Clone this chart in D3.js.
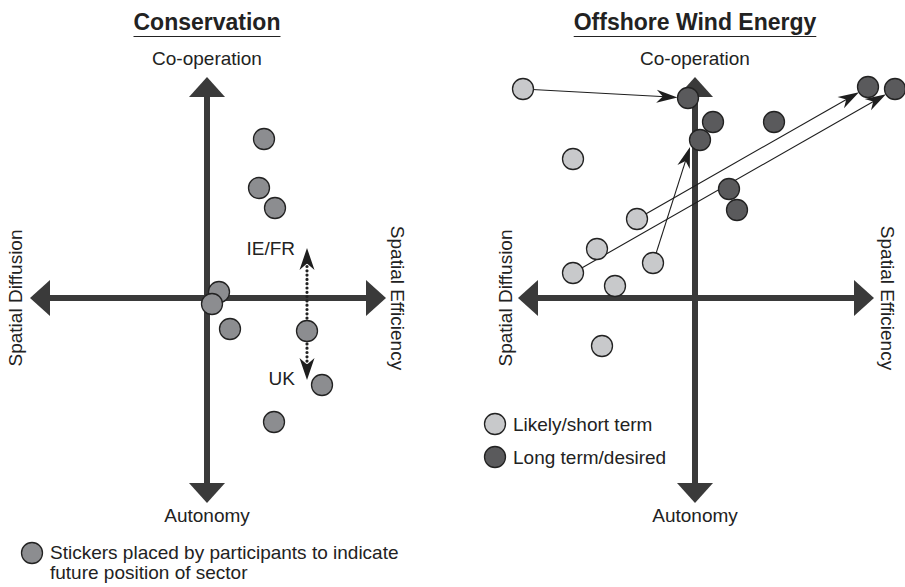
<!DOCTYPE html>
<html>
<head>
<meta charset="utf-8">
<script src="https://cdn.jsdelivr.net/npm/d3@7"></script>
<style>
  html, body { margin: 0; padding: 0; background: #fff; }
  svg { display: block; }
</style>
</head>
<body>
<svg id="chart" width="905" height="587"></svg>
<script>
// --- data (x: diffusion(-) .. efficiency(+), y: autonomy(-) .. co-operation(+)) ---
const axisLabels = ['Co-operation', 'Autonomy', 'Spatial Diffusion', 'Spatial Efficiency'];
const panelTitles = ['Conservation', 'Offshore Wind Energy'];

const conservationX = [2.85, 2.6, 3.4, 0.6, 0.25, 1.15, 5.0, 5.75, 3.35];
const conservationY = [7.95, 5.5, 4.5, 0.3, -0.3, -1.55, -1.65, -4.35, -6.2];

// dotted arrows from the sticker at (5.0, -1.65): one up (IE/FR), one down (UK)
const splitFrom = [5.0, -1.65];
const splitTipsY = [2.5, -4.1];
const splitLabels = ['IE/FR', 'UK'];
const splitLabelX = [4.4, 4.4];
const splitLabelY = [2.15, -4.35];

const shortTermX = [-8.6, -6.1, -2.9, -4.9, -6.1, -2.1, -4.0, -4.65];
const shortTermY = [10.45, 6.95, 3.95, 2.45, 1.25, 1.75, 0.6, -2.4];
const longTermX = [-0.35, 0.9, 0.25, 3.95, 8.65, 10.0, 1.7, 2.1];
const longTermY = [10.0, 8.8, 7.9, 8.8, 10.55, 10.45, 5.45, 4.4];

// short term -> long term arrows: [x1, y1, x2 (tip), y2 (tip)]
const windArrows = [
  [-8.6, 10.45, -0.875, 10.03],
  [-2.1, 1.75, -0.25, 7.55],
  [-2.9, 3.95, 8.2, 10.29],
  [-6.1, 1.25, 9.55, 10.19]
];

const legendConservation = ['Stickers placed by participants to indicate', 'future position of sector'];
const legendWind = ['Likely/short term', 'Long term/desired'];

// --- style ---
const font = "'Liberation Sans', Arial, Helvetica, sans-serif";
const axisColor = '#3a3a3a';
const textColor = '#222';
const fillMid = '#8c8d90';
const fillLight = '#c8c9cb';
const fillDark = '#5a5a5c';
const r = 10.5;

const svg = d3.select('#chart');

function makePanel(cx, cy) {
  return {
    cx, cy,
    x: d3.scaleLinear().domain([-10, 10]).range([cx - 200, cx + 200]),
    y: d3.scaleLinear().domain([-10, 10]).range([cy + 200, cy - 200])
  };
}

const left = makePanel(207, 298);
const right = makePanel(695, 298);

function drawTitle(p, title) {
  const t = svg.append('text')
    .attr('x', p.cx).attr('y', 30)
    .attr('text-anchor', 'middle')
    .attr('font-family', font).attr('font-weight', 'bold')
    .attr('font-size', 23).attr('fill', textColor)
    .text(title);
  const w = t.node().getComputedTextLength();
  svg.append('line')
    .attr('x1', p.cx - w / 2).attr('x2', p.cx + w / 2)
    .attr('y1', 36.5).attr('y2', 36.5)
    .attr('stroke', textColor).attr('stroke-width', 1.2);
}

function drawAxes(p, labelOffsets) {
  const g = svg.append('g');
  const tipL = p.cx - 177, tipR = p.cx + 179, tipT = p.cy - 221, tipB = p.cy + 205;
  const head = 20, half = 18;
  g.append('line')
    .attr('x1', tipL + head).attr('x2', tipR - head)
    .attr('y1', p.cy).attr('y2', p.cy)
    .attr('stroke', axisColor).attr('stroke-width', 6);
  g.append('line')
    .attr('x1', p.cx).attr('x2', p.cx)
    .attr('y1', tipT + head).attr('y2', tipB - head)
    .attr('stroke', axisColor).attr('stroke-width', 6);
  const heads = [
    [[tipL, p.cy], [tipL + head, p.cy - half], [tipL + head, p.cy + half]],
    [[tipR, p.cy], [tipR - head, p.cy - half], [tipR - head, p.cy + half]],
    [[p.cx, tipT], [p.cx - half, tipT + head], [p.cx + half, tipT + head]],
    [[p.cx, tipB], [p.cx - half, tipB - head], [p.cx + half, tipB - head]]
  ];
  g.selectAll('path.head').data(heads).enter().append('path')
    .attr('class', 'head')
    .attr('d', d => 'M' + d.join('L') + 'Z')
    .attr('fill', axisColor);

  const txt = (x, y, s, rot) => {
    svg.append('text')
      .attr('transform', `translate(${x},${y}) rotate(${rot})`)
      .attr('text-anchor', 'middle')
      .attr('font-family', font).attr('font-size', 19)
      .attr('fill', textColor)
      .text(s);
  };
  txt(p.cx, 65, axisLabels[0], 0);
  txt(p.cx, 522, axisLabels[1], 0);
  txt(labelOffsets[0], p.cy, axisLabels[2], -90);
  txt(labelOffsets[1], p.cy, axisLabels[3], 90);
}

// barbed arrowhead with its tip at (x, y), pointing along angle a (radians)
function arrowHead(g, x, y, a, len, half) {
  g.append('path')
    .attr('d', `M0,0L${-len},${-half}L${-len * 0.7},0L${-len},${half}Z`)
    .attr('transform', `translate(${x},${y}) rotate(${a * 180 / Math.PI})`)
    .attr('fill', '#1e1e1e');
}

function drawCircles(p, xs, ys, fill) {
  svg.append('g').selectAll('circle')
    .data(xs.map((v, i) => [v, ys[i]]))
    .enter().append('circle')
    .attr('cx', d => p.x(d[0])).attr('cy', d => p.y(d[1]))
    .attr('r', r)
    .attr('fill', fill)
    .attr('stroke', '#222').attr('stroke-width', 1.3);
}

// ---------- Conservation ----------
drawTitle(left, panelTitles[0]);
drawAxes(left, [22, 391]);

const dots = svg.append('g');
splitTipsY.forEach((ty, i) => {
  const x0 = left.x(splitFrom[0]), y0 = left.y(splitFrom[1]);
  const y1 = left.y(ty);
  const dir = Math.sign(y1 - y0);
  dots.append('line')
    .attr('x1', x0).attr('x2', x0)
    .attr('y1', y0).attr('y2', y1 - dir * 14)
    .attr('stroke', '#222').attr('stroke-width', 3.2)
    .attr('stroke-linecap', 'round').attr('stroke-dasharray', '0,4.3');
  arrowHead(dots, x0, y1, dir > 0 ? Math.PI / 2 : -Math.PI / 2, 22, 7.5);
  svg.append('text')
    .attr('x', left.x(splitLabelX[i])).attr('y', left.y(splitLabelY[i]))
    .attr('text-anchor', 'end')
    .attr('font-family', font).attr('font-size', 19).attr('fill', textColor)
    .text(splitLabels[i]);
});

drawCircles(left, conservationX, conservationY, fillMid);

// legend
svg.append('circle').attr('cx', 32).attr('cy', 553).attr('r', r)
  .attr('fill', fillMid).attr('stroke', '#222').attr('stroke-width', 1.3);
svg.append('g').selectAll('text').data(legendConservation).enter().append('text')
  .attr('x', 50).attr('y', (d, i) => 559 + i * 20)
  .attr('font-family', font).attr('font-size', 19).attr('fill', textColor)
  .text(d => d);

// ---------- Offshore Wind Energy ----------
drawTitle(right, panelTitles[1]);
drawAxes(right, [512, 881]);

const arrows = svg.append('g');
windArrows.forEach(a => {
  const x1 = right.x(a[0]), y1 = right.y(a[1]);
  const x2 = right.x(a[2]), y2 = right.y(a[3]);
  const ang = Math.atan2(y2 - y1, x2 - x1);
  arrows.append('line')
    .attr('x1', x1).attr('y1', y1)
    .attr('x2', x2 - Math.cos(ang) * 12).attr('y2', y2 - Math.sin(ang) * 12)
    .attr('stroke', '#1e1e1e').attr('stroke-width', 1.1);
  arrowHead(arrows, x2, y2, ang, 21, 6.5);
});

drawCircles(right, shortTermX, shortTermY, fillLight);
drawCircles(right, longTermX, longTermY, fillDark);

const lg = svg.append('g').selectAll('g').data(legendWind).enter().append('g')
  .attr('transform', (d, i) => `translate(495,${424 + i * 33})`);
lg.append('circle').attr('r', r)
  .attr('fill', (d, i) => i ? fillDark : fillLight)
  .attr('stroke', '#222').attr('stroke-width', 1.3);
lg.append('text').attr('x', 18).attr('y', 7)
  .attr('font-family', font).attr('font-size', 19).attr('fill', textColor)
  .text(d => d);
</script>
</body>
</html>
